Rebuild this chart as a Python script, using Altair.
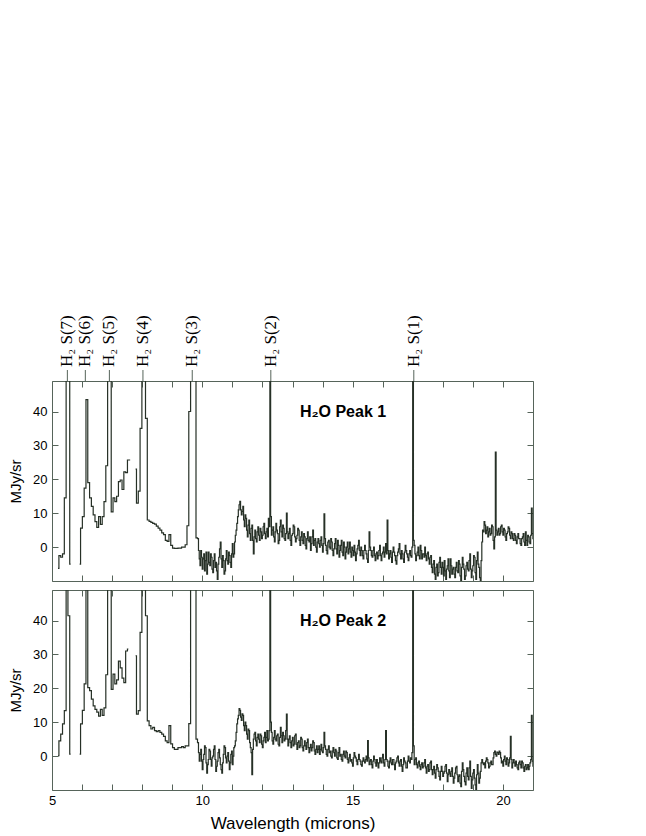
import altair as alt
import pandas as pd

# ---------------- data ----------------
# sampling grids (short-low part and long-low part of the spectrum)
coarse_wl = [round(5.20 + 0.06 * i, 2) for i in range(78)]       # 5.20 .. 9.82
dense_wl = [round(9.86 + 0.025 * i, 3) for i in range(447)]      # 9.86 .. 21.01

peak1_coarse = [
    -6.3, -2.5, -3.0, -2.0, 14.5, 80, 80, -5.0, None, None,
    None, None, -5.0, 5.6, 9.0, 17.4, 43.5, 19.0, 14.5, 12.0,
    9.5, 7.5, 5.8, 9.0, 6.7, 9.0, 13.4, 24.0, 80, 80,
    10.4, 14.5, 13.4, 15.0, 19.3, 19.8, 17.0, 22.2, 22.0, 25.7,
    25.7, None, None, 23.0, 13.0, 16.5, 35.0, 80, 80, 38.0,
    8.0, 7.6, 7.3, 7.0, 6.8, 6.2, 5.6, 5.0, 4.2, 3.7,
    2.0, 1.7, 3.7, 0.5, -0.3, -0.4, -0.4, -0.3, -0.3, 0.0,
    0.0, 0.7, 6.3, 40.0, 80, 80, 80, 2.7,
]
peak1_dense = [
    2.5, -1.0, -3.5, -5.5, -1.0, -3.0, -6.5, -3.5, -2.0, -7.0, -4.0, -1.5, -8.0, -5.0, -1.5, -4.5, -5.5, -2.0, -3.0, -6.5,
    -7.5, -4.0, -2.0, -6.0, -4.5, -7.0, -9.5, -5.0, -3.0, -0.5, 1.5, -3.5, -6.0, -2.5, -4.0, -8.0, -7.0, -3.5, -1.0, -4.0,
    -5.0, -1.5, -2.5, -4.5, -6.0, -2.0, 1.0, -3.0, -2.0, 1.5, 3.5, 5.0, 7.0, 9.0, 11.0, 12.5, 13.5, 11.0, 9.5, 10.5,
    12.0, 8.0, 6.0, 9.5, 8.5, 5.0, 3.0, 6.5, 8.0, 4.0, 2.0, 5.5, 6.5, 2.0, -2.0, 3.0, 5.0, 2.5, 1.5, 4.5,
    6.0, 3.5, 2.0, 5.5, 4.5, 2.5, 3.5, 6.0, 7.0, 4.0, 2.5, 4.5, 5.5, 3.0, 8.5, 6.0, 80, 9.0, 3.5, 5.0,
    6.0, 3.0, 1.5, 4.5, 7.0, 5.0, 4.0, 1.0, 2.0, 6.0, 8.0, 4.5, 3.0, 6.5, 5.5, 2.5, 2.0, 4.0, 10.0, 4.5,
    2.5, 4.0, 5.5, 2.0, 0.5, 3.5, 4.0, 6.5, 6.0, 3.0, 1.5, 2.5, 3.5, 5.5, 5.0, 2.0, 0.5, 3.0, 4.5, 2.0,
    1.0, 4.0, 3.0, 0.5, -0.5, 2.5, 4.5, 2.0, 1.5, 3.0, -1.0, 1.0, 3.0, 5.0, 0.5, 2.0, 2.5, 0.0, -1.5, 1.5,
    2.5, 1.0, 0.0, 2.0, 3.0, 0.5, -1.5, 1.0, 9.8, 2.5, 0.5, -1.0, -2.0, 1.5, 2.0, 0.0, -0.5, 2.5, 1.5, -1.0,
    -2.5, -0.5, 1.0, 2.5, -0.5, -2.0, 2.0, 0.5, -3.0, -1.0, 0.5, 2.0, -1.5, -2.5, 1.5, 0.0, -3.5, -1.5, 0.0, 1.5,
    -2.0, -0.5, 1.5, -1.5, -3.0, 0.0, -1.0, -2.5, 0.5, -1.5, -4.0, -2.0, -0.5, 0.5, 2.0, -1.0, -2.5, 0.0, -1.0, -2.5,
    -3.5, -1.0, 0.5, -1.0, -2.0, -3.5, -4.5, -1.0, 4.5, 0.0, -1.0, -2.5, -3.0, -1.0, 0.0, -2.5, -4.0, -2.0, -1.5, -3.5,
    -2.5, -1.0, 0.5, -2.5, -4.0, -2.0, -1.5, 0.0, -3.0, -1.5, 1.0, -2.0, 8.0, -1.0, -3.5, -2.0, -1.0, -3.0, -4.5, -1.5,
    0.0, -1.5, -2.5, -4.0, -5.0, -2.5, -1.5, -0.5, 1.0, -2.0, -3.5, -1.0, -2.0, -3.5, -4.5, -1.5, 0.5, -1.0, -2.0, -3.0,
    -4.0, -2.0, -1.0, -2.5, -3.0, 0.0, 80, 2.0, 0.5, -2.0, -4.0, -2.5, -1.5, 0.0, -2.5, -3.5, 0.5, -1.0, -3.5, -2.0,
    -2.0, -3.0, 0.0, -2.5, -4.0, -2.0, -1.5, -3.5, -5.0, -3.0, -2.5, -6.0, -7.5, -5.0, -4.0, -8.0, -9.5, -6.0, -5.0, -8.5,
    -7.5, -4.5, -3.0, -6.0, -8.0, -4.5, -6.0, -8.5, -4.0, -7.0, -9.5, -6.5, -5.5, -3.5, -7.0, -9.0, -3.5, -5.5, -8.0, -6.5,
    -6.0, -8.0, -9.0, -6.0, -4.5, -7.0, -7.5, -4.0, -5.0, -8.5, -10.0, -6.0, -3.0, -5.0, -6.5, -9.5, -8.5, -5.5, -4.5, -6.5,
    -7.0, -4.0, -2.0, -6.5, -9.0, -7.0, -5.5, -2.5, -3.0, -7.5, -9.5, -4.0, -1.5, -5.0, -6.0, -9.0, -10.0, -4.0, 1.5, 5.0,
    4.5, 7.5, 6.5, 4.0, 5.0, 6.0, 3.0, 4.5, 5.5, 3.5, 4.0, 6.5, 6.0, 2.0, -0.5, 3.0, 28.0, 5.0, 3.5, 4.5,
    5.5, 3.5, 4.0, 6.0, 6.5, 4.5, 3.5, 5.5, 5.0, 3.0, 2.0, 4.0, 4.5, 6.0, 5.5, 3.5, 2.5, 4.5, 4.0, 2.5,
    2.0, 4.0, 3.5, 2.0, 1.0, 3.0, 4.0, 2.5, 2.5, 1.0, 0.5, 2.5, 3.0, 4.0, 1.5, 0.5, 4.5, 2.0, 0.5, 3.5,
    3.0, 1.5, 1.0, 3.5, 11.5, 4.0, 2.5,
]

peak2_coarse = [
    0.1, 4.5, 6.5, 9.5, 13.4, 80, 41.4, 0.6, None, None,
    None, None, 0.6, 9.5, 13.5, 21.3, 80, 20.2, 19.3, 16.8,
    14.8, 13.8, 13.0, 11.8, 13.8, 12.0, 14.2, 24.0, 80, 80,
    19.7, 24.2, 21.3, 22.5, 28.0, 26.0, 23.0, 21.7, 31.0, 31.6,
    None, None, None, 29.6, 12.4, 13.4, 36.5, 80, 80, 41.4,
    10.4, 9.0, 8.0, 8.5, 7.5, 7.2, 7.5, 7.0, 6.5, 5.8,
    4.5, 4.0, 9.0, 3.6, 2.5, 2.0, 2.0, 2.5, 2.5, 2.8,
    2.5, 3.0, 3.0, 9.6, 80, 80, 80, 5.0,
]
peak2_dense = [
    4.0, 1.0, -1.5, 0.5, 2.0, -1.5, -4.0, -1.0, 0.5, 3.0, 2.5, -2.0, -5.0, -2.5, -1.0, 2.0, 1.5, -1.0, -3.0, -0.5,
    0.0, 2.0, 3.0, -1.0, -4.5, -3.0, -1.5, 1.0, 2.0, -0.5, -2.5, -4.0, -5.0, -2.0, 0.5, 3.0, 2.5, -0.5, -2.0, 0.0,
    1.0, -1.5, -4.0, -2.0, 0.5, 1.5, -2.5, 0.0, 2.5, 3.0, 4.5, 7.0, 9.5, 11.0, 12.0, 14.0, 13.5, 11.5, 10.5, 12.5,
    12.0, 9.0, 7.5, 10.0, 9.0, 6.5, 5.0, 8.0, 7.5, 4.0, 2.5, 1.0, -5.5, 2.0, 5.0, 6.5, 7.0, 4.5, 3.0, 5.5,
    6.5, 5.0, 4.0, 6.5, 6.0, 3.5, 2.5, 4.5, 5.5, 7.0, 4.0, 5.5, 7.5, 4.5, 5.0, 7.5, 80, 10.0, 7.0, 4.5,
    3.5, 5.5, 7.5, 5.0, 4.5, 6.0, 6.5, 3.5, 3.0, 5.5, 8.5, 6.0, 4.0, 7.0, 6.0, 4.5, 5.0, 7.5, 12.4, 5.0,
    3.0, 5.0, 6.0, 4.0, 2.5, 4.5, 5.5, 3.0, 3.5, 6.0, 6.5, 3.5, 2.0, 4.0, 4.5, 2.5, 3.0, 5.5, 5.0, 2.5,
    1.5, 3.0, 4.5, 3.0, 2.0, 4.0, 5.0, 2.5, 1.0, 2.5, 3.5, 1.5, 2.5, 4.5, 4.0, 1.5, 0.5, 2.0, 3.0, 1.0,
    2.0, 3.0, 0.5, 2.0, 3.5, 1.5, 1.0, 2.5, 7.0, 3.0, 2.0, 0.5, 0.0, 2.0, 3.0, 1.0, 1.5, 0.0, -0.5, 1.5,
    2.5, 1.0, 0.0, 2.0, 1.5, -0.5, -1.0, 1.0, 2.5, 0.0, 0.5, -1.0, -1.5, 0.5, 1.5, 0.0, -0.5, 1.5, 1.0, -1.0,
    -2.0, -0.5, 0.5, -1.5, -1.0, -2.0, -3.0, -0.5, 1.0, 0.0, -0.5, -1.5, -2.5, -1.0, 0.5, -1.0, -1.5, -2.5, -3.0, -1.5,
    -0.5, -1.5, -2.0, -1.0, 0.0, -1.5, 4.6, -0.5, -2.5, -1.5, -1.0, -2.5, -3.5, -1.5, 0.0, -1.0, -2.0, -3.0, -1.0, -2.0,
    -3.5, -2.0, -0.5, -1.5, -2.0, -0.5, 0.5, -2.0, -3.0, -1.0, 7.5, -1.0, -1.5, -3.0, -3.5, -1.5, -0.5, -2.0, -2.5, -1.0,
    -1.0, -2.5, -4.0, -2.0, -1.5, -0.5, 0.0, -2.0, -3.0, -1.5, -1.0, -3.0, -4.5, -2.5, -0.5, -1.5, -2.0, -3.5, -3.5, -1.5,
    0.0, -1.5, -2.0, -0.5, -1.0, 1.0, 80, 3.0, -2.5, -1.0, -0.5, -2.5, -3.5, -2.0, -1.5, -3.0, -4.0, -2.5, -2.0, -3.5,
    -3.0, -2.0, -1.0, -3.5, -5.0, -3.0, -2.5, -4.5, -4.0, -2.0, -1.5, -4.0, -5.5, -4.0, -3.0, -5.0, -6.5, -4.0, -2.5, -3.5,
    -4.5, -6.0, -7.0, -4.5, -3.0, -4.5, -6.0, -5.0, -4.5, -3.0, -2.5, -5.0, -7.5, -5.5, -4.0, -5.0, -6.0, -4.5, -3.5, -6.0,
    -8.0, -6.5, -5.0, -3.5, -3.0, -5.5, -7.5, -6.0, -5.5, -8.0, -9.0, -4.5, -2.0, -4.0, -6.0, -7.5, -8.5, -5.0, -3.5, -6.0,
    -7.0, -3.5, -1.5, -6.0, -9.5, -7.0, -5.0, -4.0, -6.5, -8.5, -10.0, -5.5, -2.5, -5.0, -8.0, -6.5, -4.5, -2.0, -1.0, -2.0,
    -2.5, -2.0, -3.5, -1.5, -0.5, -1.0, -2.0, -3.5, -3.0, -2.0, -1.5, -2.5, -2.5, -0.5, 1.0, 1.5, 0.5, 0.0, 1.2, 1.0,
    0.5, 1.5, 1.0, -0.5, -2.0, -1.5, -3.0, -1.0, 0.0, -1.5, -2.5, -0.5, -1.0, -3.0, -2.0, -0.5, 5.8, -1.0, -3.5, -2.0,
    -1.0, -2.0, -3.0, -1.5, -2.5, -3.5, -4.0, -2.0, -1.5, -2.5, -3.5, -1.5, -2.0, -3.5, -4.5, -3.0, -2.5, -4.0, -3.5, -2.5,
    -4.0, -3.0, -2.0, -1.0, 12.0, -1.5, -3.0,
]

assert len(peak1_dense) == len(dense_wl) == len(peak2_dense)
assert len(peak1_coarse) == len(coarse_wl) == len(peak2_coarse)

h2_wl = [5.511, 6.109, 6.909, 8.025, 9.665, 12.279, 17.035]
h2_labels = ["H₂ S(7)", "H₂ S(6)", "H₂ S(5)", "H₂ S(4)", "H₂ S(3)", "H₂ S(2)", "H₂ S(1)"]

x_ticks = list(range(5, 22))
y_ticks = [0, 10, 20, 30, 40]
panel_titles = ["H₂O Peak 1", "H₂O Peak 2"]

# ---------------- style ----------------
LINE = "#263026"
FRAME = "#56645a"
W, H = 481, 200

xs = alt.Scale(domain=[5, 21], nice=False, zero=False)
ys = alt.Scale(domain=[-10, 49], nice=False, zero=False)


def panel(coarse, dense, title, bottom):
    df = pd.DataFrame({"wl": coarse_wl + dense_wl, "flux": coarse + dense})
    if bottom:
        xaxis = alt.Axis(orient="bottom", values=x_ticks, tickSize=6, offset=-6,
                         domain=False, grid=False, labelFlush=False,
                         labelExpr="datum.value % 5 === 0 ? datum.label : ''",
                         labelPadding=4, title="Wavelength (microns)", titlePadding=8,
                         titleFontSize=17)
    else:
        xaxis = alt.Axis(orient="bottom", values=x_ticks, tickSize=6, offset=-6,
                         domain=False, grid=False, labels=False, title=None)
    yaxis = alt.Axis(orient="left", values=y_ticks, tickSize=6, offset=-6,
                     domain=False, grid=False, labelPadding=5, labelFlush=False,
                     title="MJy/sr", titlePadding=9)
    line = alt.Chart(df).mark_line(interpolate="step", color=LINE, strokeWidth=1.2, clip=True).encode(
        x=alt.X("wl:Q", scale=xs, axis=xaxis),
        y=alt.Y("flux:Q", scale=ys, axis=yaxis),
    )
    ghost = alt.Chart(df).mark_line(opacity=0, clip=True).encode(
        x=alt.X("wl:Q", scale=xs, axis=alt.Axis(orient="top", values=x_ticks, tickSize=6, offset=-6,
                                                 domain=False, grid=False, labels=False, title=None)),
        y=alt.Y("flux:Q", scale=ys, axis=alt.Axis(orient="right", values=y_ticks, tickSize=6, offset=-6,
                                                   domain=False, grid=False, labels=False, title=None)),
    )
    label = alt.Chart(pd.DataFrame({"t": [title]})).mark_text(
        font="Liberation Sans", fontWeight="bold", fontSize=16, align="center",
        baseline="alphabetic", color="black"
    ).encode(text="t:N", x=alt.value(291), y=alt.value(36))
    layers = [line, ghost, label]
    if not bottom:
        ldf = pd.DataFrame({"wl": h2_wl, "label": h2_labels})
        rules = alt.Chart(ldf).mark_rule(color=FRAME, strokeWidth=1).encode(
            x=alt.X("wl:Q", scale=xs, axis=None), y=alt.value(-11), y2=alt.value(0))
        texts = alt.Chart(ldf).mark_text(
            angle=270, align="left", baseline="middle", font="Liberation Serif",
            fontSize=17, color="black"
        ).encode(x=alt.X("wl:Q", scale=xs, axis=None), y=alt.value(-14), text="label:N")
        layers += [rules, texts]
    return alt.layer(*layers).resolve_axis(x="independent", y="independent").properties(width=W, height=H)


p1 = panel(peak1_coarse, peak1_dense, panel_titles[0], bottom=False)
p2 = panel(peak2_coarse, peak2_dense, panel_titles[1], bottom=True)

chart = alt.vconcat(p1, p2, spacing=7).properties(
    padding={"left": 0, "top": 306, "right": 5, "bottom": 5}
).configure_view(stroke=FRAME, strokeWidth=1).configure_axis(
    labelFont="Liberation Sans", titleFont="Liberation Sans",
    labelFontSize=13, titleFontSize=15, titleFontWeight="normal",
    labelColor="black", titleColor="black", tickColor=FRAME, tickWidth=1,
)

chart.save("out.html", embed_options={"renderer": "svg", "actions": False})
